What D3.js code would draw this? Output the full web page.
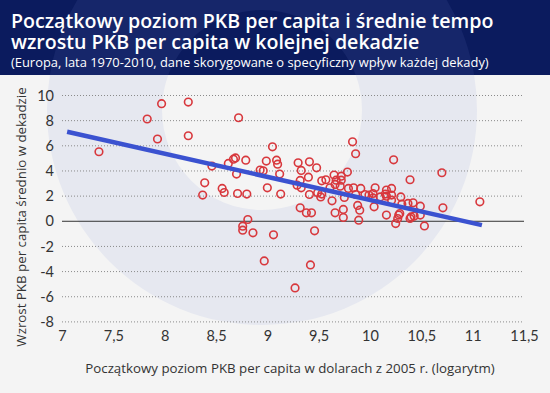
<!DOCTYPE html>
<html>
<head>
<meta charset="utf-8">
<script src="https://cdn.jsdelivr.net/npm/d3@7"></script>
<style>
  html, body { margin: 0; padding: 0; background: #f3f3f3; }
  svg { display: block; }
</style>
</head>
<body>
<div id="holder"></div>
<script>
// initial GDP per capita (log) and average growth in next decade
var gdpLog = [7.36, 7.83, 7.97, 7.93, 8.23, 8.23, 8.72, 9.05, 8.46, 8.62,
  8.67, 8.69, 8.79, 8.70, 8.39, 8.37, 8.56, 8.58, 8.71, 8.80,
  8.93, 8.96, 9.00, 8.99, 9.09, 9.10, 9.12, 9.13, 8.81, 9.30,
  9.41, 9.33, 9.48, 9.40, 9.32, 9.29, 9.33, 9.41, 9.49, 9.32,
  9.38, 9.43, 9.83, 9.86, 9.78, 9.57, 9.53, 9.65, 9.67, 9.72,
  9.72, 9.66, 9.71, 9.61, 9.79, 9.84, 9.91, 10.05, 9.53, 9.52,
  9.63, 9.66, 9.74, 9.74, 9.88, 9.90, 9.89, 10.04, 9.86, 9.95,
  9.99, 9.75, 10.23, 10.70, 10.39, 11.07, 10.71, 10.16, 10.21, 10.15,
  10.21, 10.30, 10.16, 10.31, 10.37, 10.42, 10.49, 10.28, 10.40, 10.25,
  10.27, 10.29, 10.39, 10.43, 10.49, 10.53, 8.76, 8.76, 8.86, 9.06,
  8.97, 9.42, 9.27, 9.46, 10.03, 10.10, 10.16, 10.21, 10.03];
var growth = [5.49, 8.09, 9.31, 6.50, 9.44, 6.76, 8.19, 5.88, 4.35, 4.56,
  4.90, 5.00, 4.82, 3.71, 3.02, 2.04, 2.57, 2.25, 2.17, 2.12,
  4.03, 3.97, 2.62, 4.75, 4.82, 4.50, 3.71, 2.12, 0.10, 4.61,
  4.69, 4.00, 4.21, 3.47, 3.21, 2.83, 2.62, 2.09, 2.22, 1.03,
  0.63, 0.63, 6.28, 5.33, 3.87, 3.26, 3.18, 3.63, 3.23, 3.55,
  3.23, 2.89, 2.75, 2.62, 2.57, 2.62, 2.57, 2.62, 2.12, 1.90,
  1.59, 0.63, 0.90, 0.26, 1.22, 0.84, 0.05, 1.11, 2.09, 2.09,
  2.04, 1.86, 4.85, 3.82, 3.26, 1.51, 1.03, 2.44, 2.57, 2.12,
  2.04, 1.90, 0.45, 1.32, 1.38, 1.43, 1.16, 0.45, 0.31, -0.22,
  0.18, 0.58, 0.18, 0.37, 0.45, -0.41, -0.43, -0.75, -0.96, -1.12,
  -3.19, -3.51, -5.34, -0.80, 2.17, 1.90, 1.96, 1.64, 1.82];

// trend line end points
var trendX = [7.05, 11.09];
var trendY = [7.08, -0.35];

var xTicks = [7, 7.5, 8, 8.5, 9, 9.5, 10, 10.5, 11, 11.5];
var yTicks = [-8, -6, -4, -2, 0, 2, 4, 6, 8, 10];

var titleLines = ["Początkowy poziom PKB per capita i średnie tempo",
  "wzrostu PKB per capita w kolejnej dekadzie"];
var subtitle = "(Europa, lata 1970-2010, dane skorygowane o specyficzny wpływ każdej dekady)";
var xTitle = "Początkowy poziom PKB per capita w dolarach z 2005 r. (logarytm)";
var yTitle = "Wzrost PKB per capita średnio w dekadzie";

var W = 550, H = 393, headH = 75;

var svg = d3.select('#holder').append('svg').attr('width', W).attr('height', H);

// background + watermark ring
var defs = svg.append('defs');
defs.append('clipPath').attr('id', 'head').append('rect')
  .attr('x', 0).attr('y', 0).attr('width', W).attr('height', headH);
defs.append('clipPath').attr('id', 'body').append('rect')
  .attr('x', 0).attr('y', headH).attr('width', W).attr('height', H - headH);

svg.append('rect').attr('width', W).attr('height', H).style('fill', '#f4f4f4');
svg.append('rect').attr('width', W).attr('height', headH).style('fill', '#0b1b5e');

var ring = d3.arc().innerRadius(100).outerRadius(215).startAngle(0).endAngle(2 * Math.PI);
svg.append('g').attr('clip-path', 'url(#head)')
  .append('path').attr('d', ring()).attr('transform', 'translate(262,110)')
  .style('fill', '#16266a');
svg.append('g').attr('clip-path', 'url(#body)')
  .append('path').attr('d', ring()).attr('transform', 'translate(262,110)')
  .style('fill', '#e6e8f0');

// titles
var titleFont = '"Open Sans", sans-serif';
titleLines.forEach(function(t, i) {
  svg.append('text').attr('x', 11).attr('y', 28 + i * 21)
    .style('font-family', titleFont).style('font-weight', 600)
    .style('font-size', '19.6px').style('fill', '#fff').text(t);
});
svg.append('text').attr('x', 11).attr('y', 66.5)
  .style('font-family', titleFont).style('font-size', '12.9px')
  .style('fill', '#fff').text(subtitle);

// scales
var x = d3.scaleLinear().domain([7, 11.5]).range([62, 524]);
var y = d3.scaleLinear().domain([-8, 10]).range([321.4, 95]);
var fmt = function(d) { return String(d).replace('.', ','); };

// grid lines
svg.append('g').selectAll('line').data(yTicks).enter().append('line')
  .attr('x1', x(7)).attr('x2', x(11.5))
  .attr('y1', function(d) { return y(d) + 0.5; })
  .attr('y2', function(d) { return y(d) + 0.5; })
  .style('stroke', function(d) { return d === 0 ? '#333' : '#8a8a8a'; })
  .style('stroke-width', 1)
  .style('stroke-dasharray', function(d) { return d === 0 ? null : '1,2'; });

// axes
var yAxis = svg.append('g').attr('transform', 'translate(54,0)')
  .call(d3.axisLeft(y).tickValues(yTicks).tickSize(0).tickPadding(0).tickFormat(fmt));
var xAxis = svg.append('g').attr('transform', 'translate(0,331)')
  .call(d3.axisBottom(x).tickValues(xTicks).tickSize(0).tickPadding(0).tickFormat(fmt));
[yAxis, xAxis].forEach(function(a) {
  a.select('.domain').remove();
  a.selectAll('text').style('font-family', 'Lato, sans-serif').style('font-size', '14.5px')
    .style('fill', '#333');
});
yAxis.selectAll('text').attr('dy', '0.35em');
xAxis.selectAll('text').attr('dy', '0.71em');

// axis titles
svg.append('text').attr('x', 290).attr('y', 373).attr('text-anchor', 'middle')
  .style('font-family', titleFont).style('font-size', '13.3px')
  .style('fill', '#333').text(xTitle);
svg.append('text').attr('transform', 'translate(26,217) rotate(-90)').attr('text-anchor', 'middle')
  .style('font-family', titleFont).style('font-size', '13.3px')
  .style('fill', '#333').text(yTitle);

// points
svg.append('g').selectAll('circle').data(gdpLog).enter().append('circle')
  .attr('cx', function(d) { return x(d); })
  .attr('cy', function(d, i) { return y(growth[i]); })
  .attr('r', 3.8)
  .style('fill', 'none')
  .style('stroke', '#d8383d')
  .style('stroke-width', 1.6);

// trend line
svg.append('line')
  .attr('x1', x(trendX[0])).attr('y1', y(trendY[0]))
  .attr('x2', x(trendX[1])).attr('y2', y(trendY[1]))
  .style('stroke', '#3b52d0')
  .style('stroke-width', 4.5);
</script>
</body>
</html>
